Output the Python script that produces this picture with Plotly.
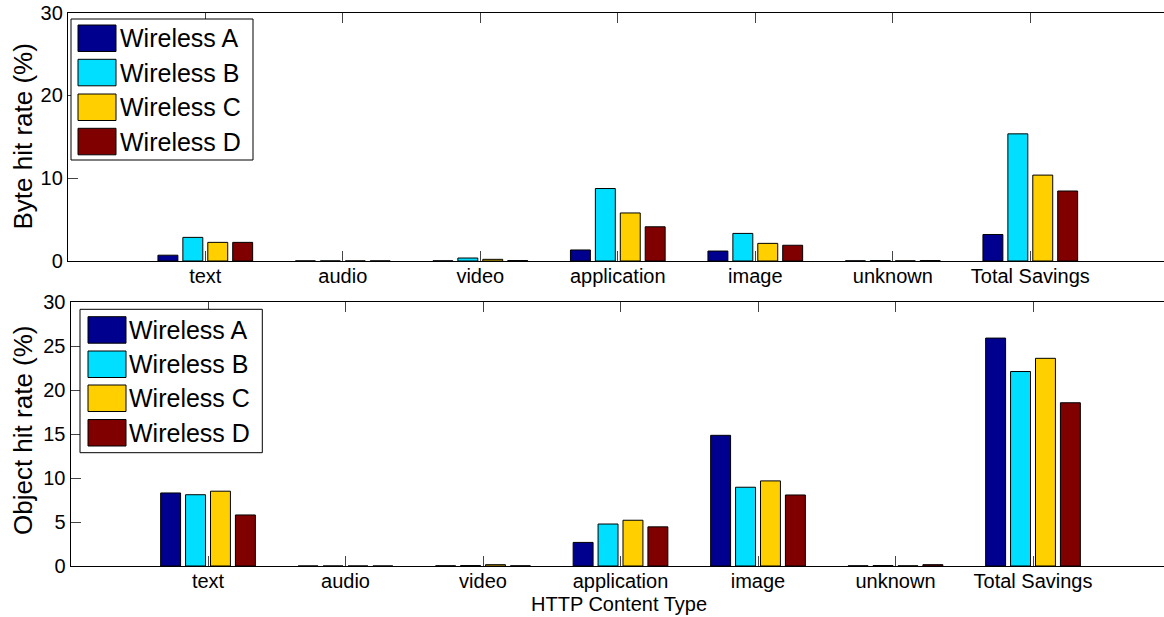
import plotly.graph_objects as go

# ---------------- data ----------------
categories = ["text", "audio", "video", "application", "image", "unknown", "Total Savings"]
series_names = ["Wireless A", "Wireless B", "Wireless C", "Wireless D"]
series_colors = ["#00008F", "#00DFFF", "#FFCF00", "#800000"]

byte_A = [0.70, 0.01, 0.02, 1.33, 1.20, 0.02, 3.20]
byte_B = [2.85, 0.01, 0.36, 8.75, 3.33, 0.05, 15.35]
byte_C = [2.25, 0.01, 0.20, 5.80, 2.13, 0.02, 10.37]
byte_D = [2.25, 0.01, 0.05, 4.13, 1.90, 0.05, 8.45]

obj_A = [8.30, 0.00, 0.02, 2.68, 14.85, 0.02, 25.90]
obj_B = [8.10, 0.00, 0.05, 4.77, 8.95, 0.05, 22.10]
obj_C = [8.50, 0.00, 0.15, 5.20, 9.67, 0.02, 23.60]
obj_D = [5.80, 0.00, 0.02, 4.45, 8.07, 0.15, 18.55]

byte_ticks = [0, 10, 20, 30]
obj_ticks = [0, 5, 10, 15, 20, 25, 30]

byte_series = [byte_A, byte_B, byte_C, byte_D]
obj_series = [obj_A, obj_B, obj_C, obj_D]

# ---------------- layout helpers ----------------
W, H = 1164, 617
FONT = "Liberation Sans, Arial, sans-serif"


def px(x):
    return x / W


def py(y):
    return 1 - y / H


xpos = list(range(1, len(categories) + 1))

fig = go.Figure()
for name, color, vals in zip(series_names, series_colors, byte_series):
    fig.add_trace(go.Bar(x=xpos, y=vals, name=name, marker_color=color,
                         marker_line=dict(color="black", width=1),
                         xaxis="x", yaxis="y", showlegend=False))
for name, color, vals in zip(series_names, series_colors, obj_series):
    fig.add_trace(go.Bar(x=xpos, y=vals, name=name, marker_color=color,
                         marker_line=dict(color="black", width=1),
                         xaxis="x2", yaxis="y2", showlegend=False))

tick_style = dict(ticks="inside", ticklen=10, tickwidth=1, tickcolor="#444",
                  showgrid=False, automargin=False)
axis_common = dict(showline=True, linecolor="black", linewidth=1,
                   tickfont=dict(family=FONT, size=20, color="black"), **tick_style)

top_x = dict(domain=[px(67.8), 1], range=[0, (W - 67.8) / 137.5])
bot_x = dict(domain=[px(70.5), 1], range=[0, (W - 70.5) / 137.5])

fig.update_layout(
    width=W, height=H,
    margin=dict(l=0, r=0, t=0, b=0, autoexpand=False),
    paper_bgcolor="white", plot_bgcolor="white",
    barmode="group", bargap=0.275, bargroupgap=0.2,
    font=dict(family=FONT, color="black"),
    xaxis=dict(**top_x, tickmode="array", tickvals=xpos, ticktext=categories,
               anchor="y", ticklabelstandoff=-3, zeroline=False, mirror="ticks", **axis_common),
    yaxis=dict(domain=[py(261), py(12.5)], range=[0, 30],
               tickmode="array", tickvals=byte_ticks, mirror=False,
               anchor="x", zeroline=True, zerolinecolor="black", zerolinewidth=1,
               **axis_common),
    yaxis3=dict(overlaying="y", side="right", anchor="x", range=[0, 30], showline=False,
                tickmode="array", tickvals=byte_ticks, showticklabels=False,
                zeroline=False, **tick_style),
    xaxis2=dict(**bot_x, tickmode="array", tickvals=xpos, ticktext=categories,
                anchor="y2", ticklabelstandoff=-3, zeroline=False, mirror="ticks", **axis_common),
    yaxis2=dict(domain=[py(566), py(302)], range=[0, 30],
                tickmode="array", tickvals=obj_ticks, mirror=False,
                anchor="x2", zeroline=True, zerolinecolor="black", zerolinewidth=1,
                **axis_common),
    yaxis4=dict(overlaying="y2", side="right", anchor="x2", range=[0, 30], showline=False,
                tickmode="array", tickvals=obj_ticks, showticklabels=False,
                zeroline=False, **tick_style),
)

annotations = []
shapes = []

# axis titles
annotations.append(dict(text="Byte hit rate (%)", x=px(23), y=py(136.5), xref="paper", yref="paper",
                        textangle=-90, showarrow=False, xanchor="center", yanchor="middle",
                        font=dict(family=FONT, size=26, color="black")))
annotations.append(dict(text="Object hit rate (%)", x=px(23), y=py(430), xref="paper", yref="paper",
                        textangle=-90, showarrow=False, xanchor="center", yanchor="middle",
                        font=dict(family=FONT, size=26, color="black")))
annotations.append(dict(text="HTTP Content Type", x=px(619), y=py(604), xref="paper", yref="paper",
                        showarrow=False, xanchor="center", yanchor="middle",
                        font=dict(family=FONT, size=20, color="black")))


def add_legend(box, sw_x, sw_tops, sw_h, text_x):
    x0, y0, x1, y1 = box
    shapes.append(dict(type="rect", xref="paper", yref="paper",
                       x0=px(x0), x1=px(x1), y0=py(y1), y1=py(y0),
                       line=dict(color="black", width=1), fillcolor="white", layer="above"))
    for name, color, top in zip(series_names, series_colors, sw_tops):
        shapes.append(dict(type="rect", xref="paper", yref="paper",
                           x0=px(sw_x[0]), x1=px(sw_x[1]), y0=py(top + sw_h), y1=py(top),
                           line=dict(color="black", width=1), fillcolor=color, layer="above"))
        annotations.append(dict(text=name, x=px(text_x), y=py(top + sw_h / 2), xref="paper", yref="paper",
                                showarrow=False, xanchor="left", yanchor="middle",
                                font=dict(family=FONT, size=25, color="black")))


add_legend((71, 19, 253, 160), (78, 116), [25, 59.3, 94, 128.3], 26.5, 118)
add_legend((80, 309.3, 262.3, 452.7), (88, 126), [316.7, 351, 385, 419.5], 26.5, 127)

fig.update_layout(annotations=annotations, shapes=shapes)

fig.write_html("out.html")
